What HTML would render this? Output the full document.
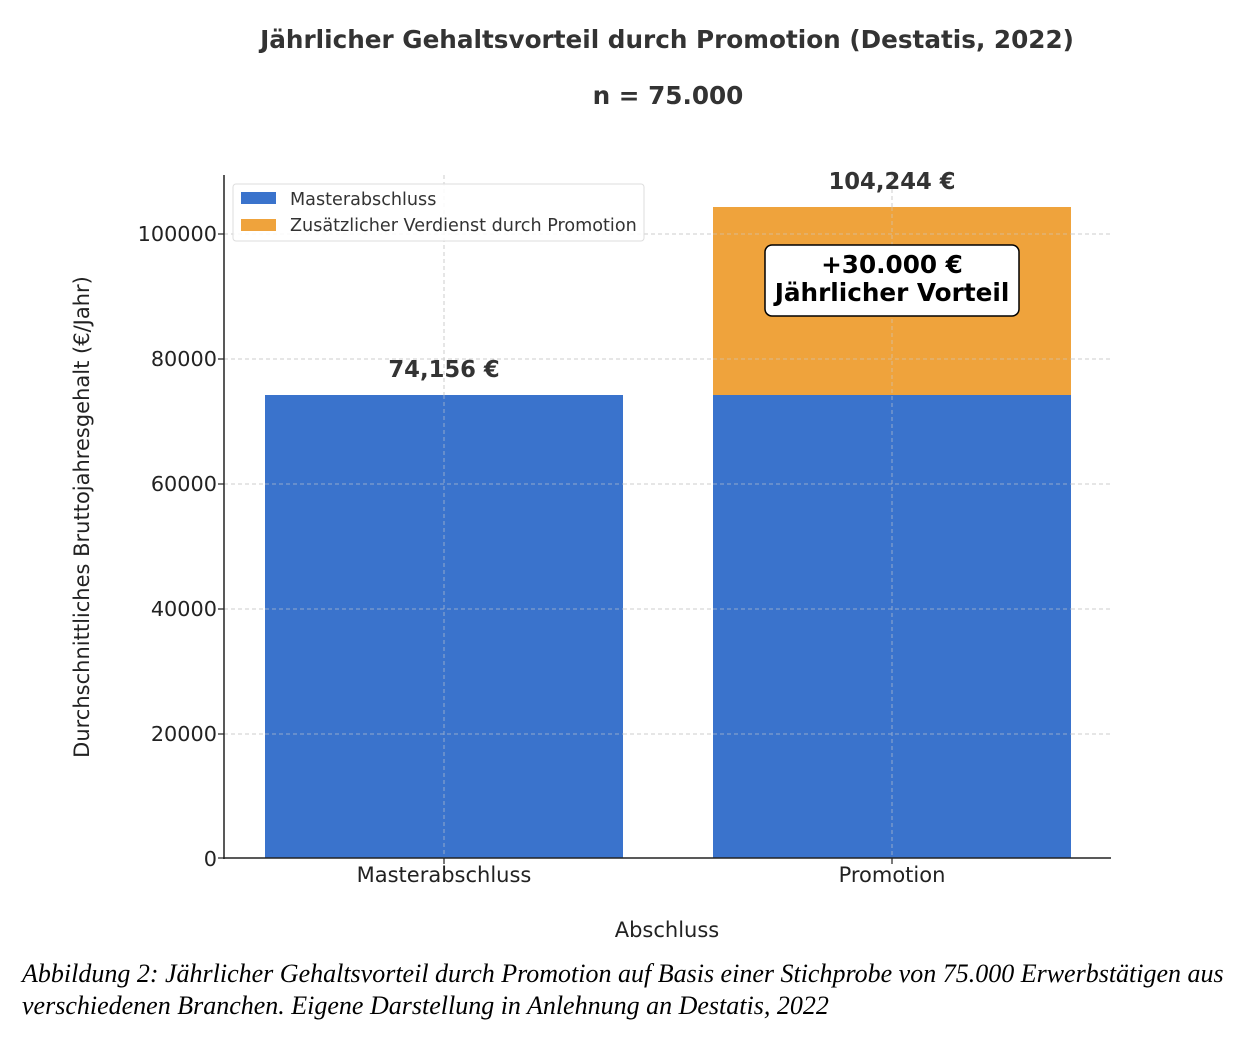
<!DOCTYPE html>
<html><head><meta charset="utf-8"><style>
html,body{margin:0;padding:0;background:#fff;}
svg{display:block;}
</style></head><body>
<svg width="1246" height="1038" viewBox="0 0 1246 1038" xmlns="http://www.w3.org/2000/svg" font-family="DejaVu Sans, Liberation Sans, sans-serif">
<rect width="1246" height="1038" fill="#fff"/>
<text x="667" y="48" text-anchor="middle" font-size="24.7" font-weight="bold" fill="#333">Jährlicher Gehaltsvorteil durch Promotion (Destatis, 2022)</text>
<text x="668" y="104" text-anchor="middle" font-size="24.7" font-weight="bold" fill="#333">n = 75.000</text>
<g stroke="#ccc" stroke-width="1" stroke-dasharray="4,3">
<line x1="224" y1="734" x2="1111" y2="734"/>
<line x1="224" y1="609" x2="1111" y2="609"/>
<line x1="224" y1="484" x2="1111" y2="484"/>
<line x1="224" y1="359" x2="1111" y2="359"/>
<line x1="224" y1="234" x2="1111" y2="234"/>
<line x1="444" y1="175" x2="444" y2="858"/>
<line x1="892" y1="175" x2="892" y2="858"/>
</g>
<rect x="265" y="395" width="358" height="463" fill="#3a73cc"/>
<rect x="713" y="395" width="358" height="463" fill="#3a73cc"/>
<rect x="713" y="207" width="358" height="188" fill="#efa33c"/>
<g stroke="#ccc" stroke-width="1" stroke-dasharray="4,3" opacity="0.6">
<line x1="444" y1="395" x2="444" y2="858"/>
<line x1="892" y1="207" x2="892" y2="858"/>
<line x1="265" y1="734" x2="623" y2="734"/><line x1="713" y1="734" x2="1071" y2="734"/>
<line x1="265" y1="609" x2="623" y2="609"/><line x1="713" y1="609" x2="1071" y2="609"/>
<line x1="265" y1="484" x2="623" y2="484"/><line x1="713" y1="484" x2="1071" y2="484"/>
<line x1="713" y1="359" x2="1071" y2="359"/><line x1="713" y1="234" x2="1071" y2="234"/>
</g>
<line x1="224" y1="175" x2="224" y2="859" stroke="#222" stroke-width="1.5"/>
<line x1="223" y1="858" x2="1111" y2="858" stroke="#222" stroke-width="1.5"/>
<g stroke="#222" stroke-width="1.2">
<line x1="218" y1="858" x2="224" y2="858"/><line x1="218" y1="734" x2="224" y2="734"/>
<line x1="218" y1="609" x2="224" y2="609"/><line x1="218" y1="484" x2="224" y2="484"/>
<line x1="218" y1="359" x2="224" y2="359"/><line x1="218" y1="234" x2="224" y2="234"/>
<line x1="444" y1="858" x2="444" y2="864"/><line x1="892" y1="858" x2="892" y2="864"/>
</g>
<g font-size="20.8" fill="#222" text-anchor="end">
<text x="217" y="866">0</text><text x="217" y="741">20000</text><text x="217" y="616">40000</text>
<text x="217" y="491">60000</text><text x="217" y="366">80000</text><text x="217" y="241">100000</text>
</g>
<g font-size="21" fill="#222" text-anchor="middle">
<text x="444" y="882">Masterabschluss</text><text x="892" y="882">Promotion</text>
<text x="667" y="937">Abschluss</text>
</g>
<text transform="translate(89,517) rotate(-90)" text-anchor="middle" font-size="21" fill="#222">Durchschnittliches Bruttojahresgehalt (€/Jahr)</text>
<text x="444" y="377" text-anchor="middle" font-size="22.7" font-weight="bold" fill="#333">74,156 €</text>
<text x="892" y="189" text-anchor="middle" font-size="22.7" font-weight="bold" fill="#333">104,244 €</text>
<rect x="765" y="245" width="254" height="71" rx="7" fill="#fff" stroke="#000" stroke-width="1.5"/>
<text x="892" y="273" text-anchor="middle" font-size="24.7" font-weight="bold" fill="#000">+30.000 €</text>
<text x="892" y="301" text-anchor="middle" font-size="24.7" font-weight="bold" fill="#000">Jährlicher Vorteil</text>
<rect x="233" y="184" width="411" height="57" rx="3" fill="#fff" fill-opacity="0.85" stroke="#ddd"/>
<rect x="241" y="192" width="35" height="12" fill="#3a73cc"/>
<rect x="241" y="219" width="35" height="12" fill="#efa33c"/>
<text x="290" y="205" font-size="17.6" fill="#333">Masterabschluss</text>
<text x="290" y="231" font-size="17.6" fill="#333">Zusätzlicher Verdienst durch Promotion</text>
<g font-family="Liberation Serif, serif" font-style="italic" font-size="26" fill="#000">
<text x="22" y="982">Abbildung 2: Jährlicher Gehaltsvorteil durch Promotion auf Basis einer Stichprobe von 75.000 Erwerbstätigen aus</text>
<text x="22" y="1014">verschiedenen Branchen. Eigene Darstellung in Anlehnung an Destatis, 2022</text>
</g>
</svg>
</body></html>
